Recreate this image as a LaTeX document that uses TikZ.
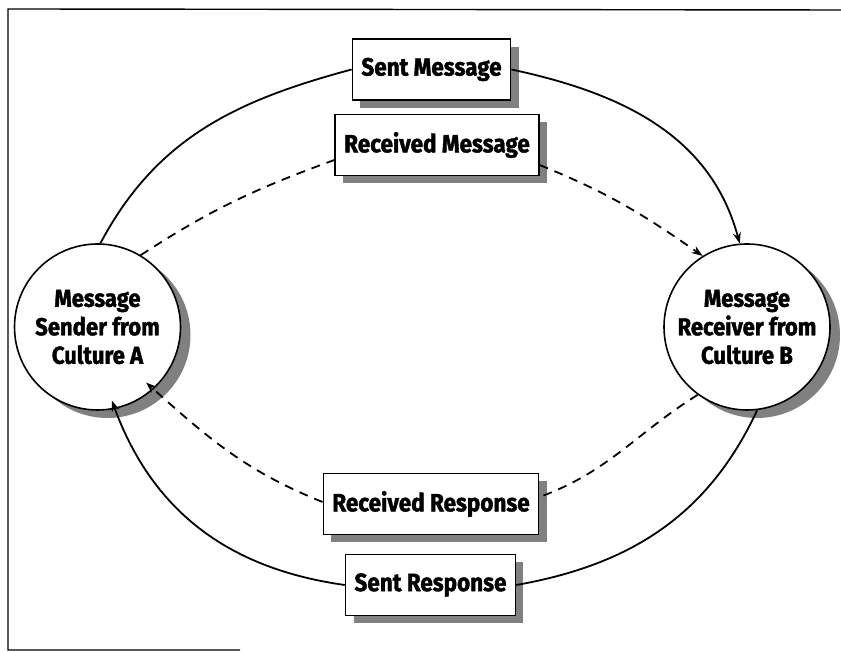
\documentclass[tikz,border=0pt]{standalone}
\usepackage{fontspec}
\setmainfont{Fira Sans}[FakeStretch=0.9, BoldFeatures={FakeBold=1.6}]
\usetikzlibrary{arrows.meta,shadows}

\begin{document}
\begin{tikzpicture}[x=1pt,y=1pt,
    msgbox/.style={draw, line width=1.6pt, fill=white, inner xsep=9pt, minimum height=61pt,
      font=\bfseries\fontsize{25}{28}\selectfont,
      drop shadow={shadow xshift=8pt, shadow yshift=-8pt, fill=black!50, opacity=1}},
    party/.style={circle, draw, line width=1.6pt, fill=white, minimum size=166pt, inner sep=0pt,
      align=center, font=\bfseries\fontsize{24.5}{28.5}\selectfont,
      drop shadow={shadow xshift=10pt, shadow yshift=-8pt, fill=black!50, opacity=1}},
    flow/.style={line width=1.8pt},
    reply/.style={flow, dash pattern=on 9pt off 7pt},
    tip/.style={-{Stealth[length=11pt,width=8pt]}}
  ]
  \useasboundingbox (0,0) rectangle (841,652);
  % frame
  \draw[line width=1.4pt] (841,642) -- (8,643) -- (8,2) -- (240,2);

  % the two parties
  \node[party] (sender) at (97.5,325) {Message\\Sender from\\Culture A};
  \node[party] (receiver) at (747,325) {Message\\Receiver from\\Culture B};

  % the four messages
  \node[msgbox] (sentmsg) at (431.5,582.5) {Sent Message};
  \node[msgbox] (recvmsg) at (437,507) {Received Message};
  \node[msgbox] (recvresp) at (431,148) {Received Response};
  \node[msgbox] (sentresp) at (430.5,67) {Sent Response};

  % message as sent
  \draw[flow] (sender.88) to[out=62,in=195] (sentmsg.west);
  \draw[flow,tip] (sentmsg.east) to[out=-12,in=105] (receiver.95);
  % message as received
  \draw[reply] (sender.59) to[out=33,in=200] ([yshift=-15pt]recvmsg.west);
  \draw[reply,tip] ([yshift=-20pt]recvmsg.east) to[out=-22,in=145] (receiver.122);
  % response as received
  \draw[reply] (receiver.234) to[out=212,in=20] ([yshift=7pt]recvresp.east);
  \draw[reply,tip,shorten >=-10pt] ([yshift=2pt]recvresp.west) to[out=158,in=-42] (sender.312);
  % response as sent
  \draw[flow] (receiver.277) to[out=245,in=10] (sentresp.east);
  \draw[flow,tip,shorten >=-9pt] (sentresp.west) to[out=172,in=-70] (sender.282);
\end{tikzpicture}
\end{document}
